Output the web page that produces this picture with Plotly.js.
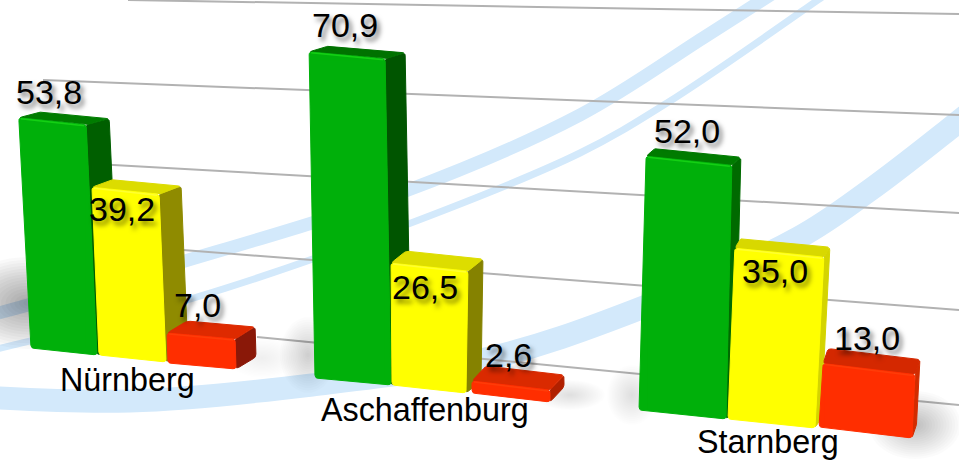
<!DOCTYPE html>
<html>
<head>
<meta charset="utf-8">
<script src="https://cdn.plot.ly/plotly-3.0.1.min.js"></script>
<style>html,body{margin:0;padding:0;background:#fff}#chart{width:959px;height:460px}</style>
</head>
<body>
<div id="chart"></div>
<script>
// ---- data ----
const categories = ['Nürnberg', 'Aschaffenburg', 'Starnberg'];
const greenValues = [53.8, 70.9, 52.0];
const yellowValues = [39.2, 26.5, 35.0];
const redValues = [7.0, 2.6, 13.0];

// ---- pseudo-3D stage geometry (pixels of the stage axes), per bar: N g,y,r / A g,y,r / S g,y,r ----
const pxPerUnit = [4.28, 4.6, 4.88];
const baseLeftX = [31, 99, 168, 315, 392, 472, 639, 728, 819];
const baseLeftY = [348, 355, 363, 378, 385, 393, 410, 419, 427];
const baseRightX = [97, 166, 236, 391, 466, 550, 726, 815, 912];
const baseRightY = [355, 362, 369, 385, 393, 402, 419, 428, 438];
const leanLeft = [.053, .042, .03, .018, .008, 0, -.028, -.04, -.065];
const leanRight = [.047, .041, .03, .018, -.016, 0, -.023, -.052, -.046];
const depthX = [23, 22, 20, 20, 15, 14, 9, 6, 5];
const depthY = [-6, -8, -12, -6, -12, -15, -8, -10, -15];
const faceColors = ['#00b00a', '#ffff00', '#ff2e00'];
const edgeColors = ['#14d014', '#ffff30', '#ff3c08'];
const topColors = ['#007c00', '#dcdc00', '#de2a00', '#007200', '#dddd00', '#da2a00', '#007b00', '#d8d800', '#d42800'];
const sideColors = ['#005f00', '#8f8b00', '#8a1808', '#005500', '#858200', '#b02000', '#006a00', '#d4d400', '#d22c00'];
const valueLabelX = [49, 122, 197, 345, 425, 508, 687, 775, 867];
const valueLabelY = [92, 209, 305, 25, 287, 355, 131, 271, 338];
const categoryLabelX = [127, 425, 768];
const categoryLabelY = [380, 410, 442];

// ---- background decoration ----
const gridX = [[128, 959], [43, 959], [60, 959], [183, 959], [257, 959]];
const gridY = [[0, 14], [80, 115], [162, 213], [250, 310], [337, 405]];
const arcWideX = [-20, 130, 312, 490, 631, 798, 870, 948, 1010];
const arcWideY = [397, 401, 385, 358, 312, 238, 190, 130, 80];
const arcMidX = [-20, 185, 403, 580, 703, 775];
const arcMidY = [318, 261, 192, 115, 38, -8];
const arcThinX = [-20, 197, 403, 580, 667, 818, 860];
const arcThinY = [353, 297, 226, 153, 103, 0, -30];
const shadows = [ // cx, cy, rx, ry, peak
  [28, 303, 72, 46, .32], [915, 425, 46, 34, .22], [308, 355, 28, 38, .16],
  [262, 358, 35, 20, .05], [570, 395, 35, 15, .1], [632, 395, 25, 30, .1],
  [130, 372, 130, 22, .03], [430, 408, 140, 18, .03], [770, 436, 140, 16, .03]
];

const values = [];
for (let g = 0; g < categories.length; g++) values.push(greenValues[g], yellowValues[g], redValues[g]);

const traces = [];
const quiet = {hoverinfo: 'skip', showlegend: false};
function line(x, y, color, width, shape) {
  traces.push({type: 'scatter', mode: 'lines', x, y, xaxis: 'x', yaxis: 'y', ...quiet,
    line: {color, width, shape: shape || 'linear', smoothing: 1}});
}
function rounded(pts, r) {
  const out = [];
  pts.forEach((p, i) => {
    const a = pts[(i + pts.length - 1) % pts.length], b = pts[(i + 1) % pts.length];
    const la = Math.max(Math.hypot(a[0] - p[0], a[1] - p[1]), 1e-6), lb = Math.max(Math.hypot(b[0] - p[0], b[1] - p[1]), 1e-6);
    const ra = Math.min(r, la / 2.2), rb = Math.min(r, lb / 2.2);
    const s = [p[0] + (a[0] - p[0]) * ra / la, p[1] + (a[1] - p[1]) * ra / la];
    const e = [p[0] + (b[0] - p[0]) * rb / lb, p[1] + (b[1] - p[1]) * rb / lb];
    for (let t = 0; t <= 4; t++) {
      const u = t / 4;
      out.push([(1 - u) * (1 - u) * s[0] + 2 * u * (1 - u) * p[0] + u * u * e[0],
                (1 - u) * (1 - u) * s[1] + 2 * u * (1 - u) * p[1] + u * u * e[1]]);
    }
  });
  return out;
}
function poly(corners, color, r) {
  const pts = rounded(corners, r);
  traces.push({type: 'scatter', mode: 'lines', x: pts.map(p => p[0]).concat(pts[0][0]),
    y: pts.map(p => p[1]).concat(pts[0][1]), xaxis: 'x', yaxis: 'y', fill: 'toself', fillcolor: color, ...quiet,
    line: {color, width: 1}});
}

line(arcWideX, arcWideY, '#d3e9fb', 23, 'spline');
line(arcMidX, arcMidY, '#d3e9fb', 13, 'spline');
line(arcThinX, arcThinY, '#d3e9fb', 7, 'spline');
gridX.forEach((x, i) => line(x, gridY[i], '#b2b2b2', 2));

shadows.forEach(([cx, cy, rx, ry, peak]) => {
  const n = 16, a = 1 - Math.pow(1 - peak, 1 / n);
  for (let l = n; l > 0; l--) {
    const xs = [], ys = [];
    for (let t = 0; t <= 48; t++) {
      xs.push(cx + rx * l / n * Math.cos(t / 48 * 2 * Math.PI));
      ys.push(cy + ry * l / n * Math.sin(t / 48 * 2 * Math.PI));
    }
    traces.push({type: 'scatter', mode: 'none', x: xs, y: ys, xaxis: 'x', yaxis: 'y', fill: 'toself',
      fillcolor: 'rgba(0,0,0,' + a.toFixed(4) + ')', ...quiet});
  }
});

const layout = {
  width: 959, height: 460, margin: {l: 0, r: 0, t: 0, b: 0}, paper_bgcolor: '#fff', plot_bgcolor: '#fff',
  showlegend: false, barmode: 'overlay',
  xaxis: {range: [0, 959], visible: false, fixedrange: true},
  yaxis: {range: [460, 0], visible: false, fixedrange: true},
  annotations: []
};

const barTraces = [];
values.forEach((v, i) => {
  const s = i % 3, h = v * pxPerUnit[Math.floor(i / 3)];
  const BL = [baseLeftX[i], baseLeftY[i]], BR = [baseRightX[i], baseRightY[i]];
  const TL = [BL[0] - leanLeft[i] * h, BL[1] - h], TR = [BR[0] - leanRight[i] * h, BR[1] - h];
  const d = [depthX[i], depthY[i]];
  const back = p => [p[0] + d[0], p[1] + d[1]];
  poly([BR, TR, back(TR), back(BR)], sideColors[i], 3);
  poly([TL, TR, back(TR), back(TL)], topColors[i], 3);
  poly([BL, BR, TR, TL], faceColors[s], 3);
  line([TL[0] + 2, TR[0] - 2], [TL[1] + 1, TR[1] + 1], edgeColors[s], 1.5);

  // the value itself, as a real bar on its own axis whose zero sits on this bar's floor
  const left = Math.max(BL[0], TL[0]) + 1, right = Math.min(BR[0], TR[0]) - 1;
  const unit = (BL[1] - TR[1] - 2) / v;
  layout['yaxis' + (i + 2)] = {overlaying: 'y', visible: false, fixedrange: true,
    range: [(BL[1] - 460) / unit, BL[1] / unit]};
  barTraces.push({type: 'bar', x: [(left + right) / 2], y: [v], width: [right - left], xaxis: 'x', yaxis: 'y' + (i + 2),
    marker: {color: faceColors[s], line: {width: 0}}, ...quiet});

  layout.annotations.push({xref: 'x', yref: 'y', x: valueLabelX[i], y: valueLabelY[i], showarrow: false,
    text: v.toFixed(1).replace('.', ','), xanchor: 'center', yanchor: 'middle',
    font: {family: 'Liberation Sans', size: 34, color: '#000', shadow: '3px 4px 5px rgba(0,0,0,0.55)'}});
});

categories.forEach((c, i) => layout.annotations.push({xref: 'x', yref: 'y', x: categoryLabelX[i], y: categoryLabelY[i],
  showarrow: false, text: c, xanchor: 'center', yanchor: 'middle',
  font: {family: 'Liberation Sans', size: 32.3, color: '#000'}}));

Plotly.newPlot('chart', traces.concat(barTraces), layout, {displayModeBar: false, responsive: false});
</script>
</body>
</html>
